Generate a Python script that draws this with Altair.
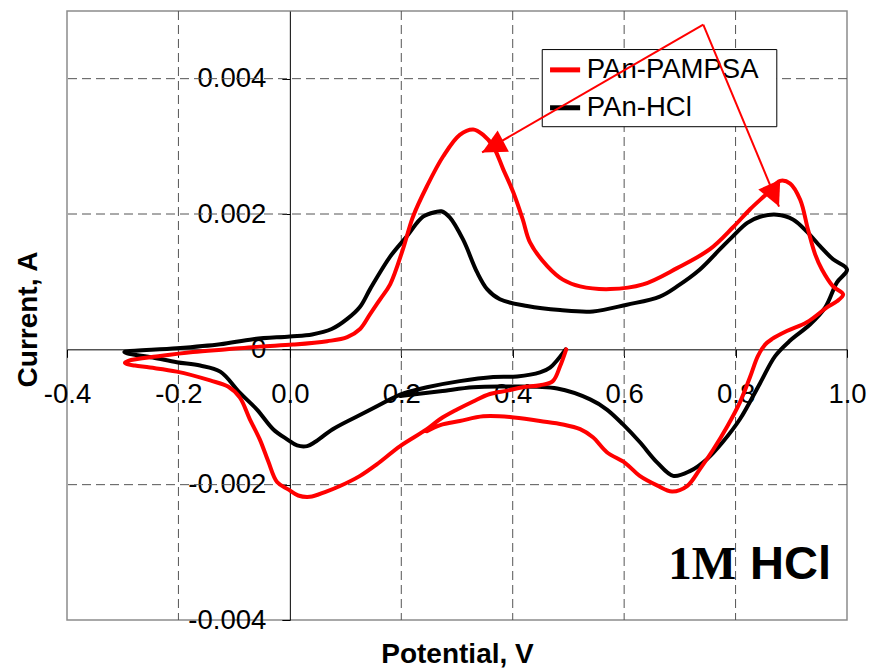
import altair as alt
import pandas as pd

FONT = "Liberation Sans"
SERIF = "Liberation Serif"

# Cyclic voltammograms in 1M HCl, listed in scan order starting at 0.5 V.
# Potential in V, current in A.
hcl_potential = [
    0.495, 0.467, 0.449, 0.408, 0.365, 0.305, 0.246, 0.221, 0.198,
    0.138, 0.077, 0.045, 0.031, 0.013, -0.005, -0.030, -0.059, -0.090, -0.125,
    -0.161, -0.203, -0.246, -0.292, -0.297,
    -0.292, -0.203, -0.125, -0.066, 0.0, 0.040, 0.075, 0.103, 0.126, 0.144,
    0.180, 0.210, 0.239, 0.262, 0.272, 0.287, 0.311, 0.336, 0.354, 0.377,
    0.426, 0.485, 0.544, 0.605, 0.664, 0.695, 0.736, 0.772, 0.795, 0.821,
    0.844, 0.874, 0.903, 0.928, 0.952, 0.975, 1.0,
    0.982, 0.961, 0.934, 0.898, 0.871, 0.844, 0.808, 0.777, 0.749, 0.718,
    0.688, 0.659, 0.628, 0.598, 0.569, 0.539, 0.480, 0.390, 0.329, 0.270, 0.198,
]
hcl_current = [
    0.0, -0.00027, -0.00034, -0.00040, -0.00041, -0.00047, -0.00056, -0.00061, -0.00067,
    -0.00092, -0.00118, -0.00137, -0.00143, -0.00142, -0.00133, -0.00118, -0.00089, -0.00064, -0.00033,
    -0.00024, -0.00019, -0.00012, -0.00006, -0.00004,
    -0.00003, 0.000015, 0.000074, 0.00015, 0.00019, 0.00022, 0.00030, 0.00045, 0.00063, 0.00089,
    0.00137, 0.00167, 0.00196, 0.00203, 0.00204, 0.00195, 0.00162, 0.00114, 0.00089, 0.00074,
    0.00064, 0.00058, 0.00056, 0.00066, 0.00078, 0.00093, 0.00118, 0.00148, 0.00167, 0.00187,
    0.00196, 0.00199, 0.00192, 0.00174, 0.00152, 0.00133, 0.00118,
    0.00099, 0.00062, 0.00037, 0.00013, -0.00010, -0.00050, -0.00103, -0.00137, -0.00162, -0.00180,
    -0.00187, -0.00167, -0.00137, -0.00111, -0.00089, -0.00074, -0.00058, -0.00055, -0.00056, -0.00062, -0.00069,
]

pampsa_potential = [
    0.496, 0.485, 0.472, 0.449, 0.418, 0.390, 0.359, 0.329, 0.300, 0.270, 0.246,
    0.198, 0.156, 0.126, 0.090, 0.063, 0.036, 0.015, -0.003, -0.023, -0.039,
    -0.054, -0.072, -0.090, -0.111, -0.143, -0.203, -0.251, -0.278, -0.292, -0.296,
    -0.290, -0.233, -0.174, -0.113, -0.054, 0.006, 0.067, 0.103, 0.126, 0.144,
    0.162, 0.180, 0.203, 0.221, 0.246, 0.275, 0.305, 0.329, 0.347, 0.365,
    0.383, 0.401, 0.418, 0.431, 0.462, 0.490, 0.521, 0.575, 0.634, 0.695,
    0.754, 0.795, 0.826, 0.856, 0.880, 0.898, 0.916, 0.930, 0.943, 0.955,
    0.975, 0.993,
    0.982, 0.964, 0.928, 0.892, 0.865, 0.853, 0.840, 0.826, 0.808, 0.785,
    0.760, 0.736, 0.713, 0.686, 0.659, 0.628, 0.602, 0.569, 0.544, 0.521,
    0.490, 0.449, 0.395, 0.347, 0.305, 0.270, 0.246,
]
pampsa_current = [
    0.0, -0.00025, -0.00047, -0.00053, -0.00056, -0.00061, -0.00066, -0.00077, -0.00089, -0.00103, -0.00118,
    -0.00143, -0.00170, -0.00187, -0.00202, -0.00211, -0.00218, -0.00216, -0.00207, -0.00196, -0.00165,
    -0.00133, -0.00103, -0.00071, -0.00055, -0.00046, -0.00033, -0.00027, -0.00024, -0.00022, -0.00020,
    -0.00017, -0.00010, -0.00004, 0.0, 0.00004, 0.00007, 0.00012, 0.00018, 0.00030, 0.00052,
    0.00074, 0.00096, 0.00148, 0.00196, 0.00241, 0.00285, 0.00317, 0.00325, 0.00317, 0.00300,
    0.00266, 0.00232, 0.00192, 0.00158, 0.00123, 0.00103, 0.00093, 0.00089, 0.00096, 0.00120,
    0.00148, 0.00180, 0.00207, 0.00230, 0.00249, 0.00245, 0.00221, 0.00177, 0.00140, 0.00118,
    0.00093, 0.00081,
    0.00071, 0.00062, 0.00040, 0.00027, 0.00015, 0.00007, -0.00010, -0.00041, -0.00078, -0.00114,
    -0.00148, -0.00177, -0.00202, -0.00210, -0.00201, -0.00187, -0.00168, -0.00152, -0.00130, -0.00118,
    -0.00111, -0.00106, -0.00100, -0.00099, -0.00106, -0.00112, -0.00121,
]

series_names = ["PAn-PAMPSA", "PAn-HCl"]
series_colors = ["#ff0000", "#000000"]

x_ticks = [-0.4, -0.2, 0.0, 0.2, 0.4, 0.6, 0.8, 1.0]
y_ticks = [-0.004, -0.002, 0.0, 0.002, 0.004]
x_grid = [-0.2, 0.2, 0.4, 0.6, 0.8]
y_grid = [-0.002, 0.002, 0.004]

# Arrows pointing from a common apex to the two oxidation peaks of PAn-PAMPSA
arrow_apex_v, arrow_apex_i = 0.742, 0.0048
arrow_tip_v = [0.345, 0.878]
arrow_tip_i = [0.00291, 0.00211]
arrow_angle = [242, 156]

# In-plot legend box, placed in data units
legend_box_v = [0.453, 0.874]
legend_box_i = [0.00443, 0.00329]
legend_row_i = [0.00413, 0.00357]
legend_sample_v = [0.467, 0.521]
legend_label_v = 0.533

X_DOMAIN = [-0.4, 1.0]
Y_DOMAIN = [-0.004, 0.005]
W, H = 780, 609

# Axes cross at the origin, as in the classic spreadsheet chart style
x_offset = -H * (0 - Y_DOMAIN[0]) / (Y_DOMAIN[1] - Y_DOMAIN[0])
y_offset = -W * (0 - X_DOMAIN[0]) / (X_DOMAIN[1] - X_DOMAIN[0])

x_scale = alt.Scale(domain=X_DOMAIN, nice=False, zero=False)
y_scale = alt.Scale(domain=Y_DOMAIN, nice=False, zero=False)

x_axis = alt.Axis(
    values=x_ticks, offset=x_offset, grid=False,
    domainColor="black", domainWidth=1, tickColor="black", tickSize=8, tickWidth=1,
    labelFont=FONT, labelFontSize=27.5, labelColor="black", labelPadding=23,
    labelFlush=False, labelOverlap=False,
    labelExpr="(datum.value < 0 ? '-' : '') + format(abs(datum.value), '.1f')",
    title="Potential, V", titleFont=FONT, titleFontSize=28, titleFontWeight="bold",
    titleColor="black", titleX=W / 2, titleY=313, titleAlign="center",
    titleBaseline="alphabetic",
)
y_axis = alt.Axis(
    values=y_ticks, offset=y_offset, grid=False,
    domainColor="black", domainWidth=1, tickColor="black", tickSize=8, tickWidth=1,
    labelFont=FONT, labelFontSize=27.5, labelColor="black", labelPadding=16,
    labelOverlap=False,
    labelExpr="datum.value == 0 ? '0' : (datum.value < 0 ? '-' : '') + format(abs(datum.value), '.3f')",
    title="Current, A", titleFont=FONT, titleFontSize=28, titleFontWeight="bold",
    titleColor="black", titleX=-252.9, titleY=308, titleAlign="center",
    titleBaseline="alphabetic", titleAngle=270,
)


def X(field):
    return alt.X(field, type="quantitative", scale=x_scale, axis=x_axis)


def Y(field):
    return alt.Y(field, type="quantitative", scale=y_scale, axis=y_axis)


color_scale = alt.Scale(domain=series_names, range=series_colors)

rows = []
for name, vs, cs in [("PAn-HCl", hcl_potential, hcl_current),
                     ("PAn-PAMPSA", pampsa_potential, pampsa_current)]:
    for k, (v, c) in enumerate(zip(vs, cs)):
        rows.append({"series": name, "seq": k, "potential": v, "current": c})
curves = pd.DataFrame(rows)

grid_style = dict(color="#555555", strokeDash=[9, 5], strokeWidth=1)
grid_v = alt.Chart(pd.DataFrame({"gx": x_grid})).mark_rule(**grid_style).encode(x=X("gx"))
grid_h = alt.Chart(pd.DataFrame({"gy": y_grid})).mark_rule(**grid_style).encode(y=Y("gy"))

legend_box = alt.Chart(pd.DataFrame({
    "v0": [legend_box_v[0]], "v1": [legend_box_v[1]],
    "i0": [legend_box_i[0]], "i1": [legend_box_i[1]],
})).mark_rect(fill="white", stroke="black", strokeWidth=1).encode(
    x=X("v0"), x2="v1", y=Y("i0"), y2="i1"
)

legend_df = pd.DataFrame({
    "series": series_names,
    "row": legend_row_i,
    "s0": [legend_sample_v[0]] * 2,
    "s1": [legend_sample_v[1]] * 2,
    "lv": [legend_label_v] * 2,
})
legend_samples = alt.Chart(legend_df).mark_rule(strokeWidth=5).encode(
    x=X("s0"), x2="s1", y=Y("row"),
    color=alt.Color("series:N", scale=color_scale, legend=None),
)
legend_labels = alt.Chart(legend_df).mark_text(
    align="left", baseline="middle", font=FONT, fontSize=27.5, color="black"
).encode(x=X("lv"), y=Y("row"), text="series:N")

lines = alt.Chart(curves).mark_line(
    strokeWidth=4, strokeJoin="round", strokeCap="round", interpolate="catmull-rom"
).encode(
    x=X("potential"), y=Y("current"),
    color=alt.Color("series:N", scale=color_scale, legend=None),
    order="seq:Q",
)

arrow_rows = []
for k, (tv, ti) in enumerate(zip(arrow_tip_v, arrow_tip_i)):
    arrow_rows.append({"arrow": k, "pt": 0, "v": arrow_apex_v, "i": arrow_apex_i})
    arrow_rows.append({"arrow": k, "pt": 1, "v": tv, "i": ti})
arrow_lines = alt.Chart(pd.DataFrame(arrow_rows)).mark_line(
    color="#ff0000", strokeWidth=2
).encode(x=X("v"), y=Y("i"), detail="arrow:N", order="pt:Q")

arrow_heads = alt.Chart(pd.DataFrame({
    "v": arrow_tip_v, "i": arrow_tip_i, "angle": arrow_angle,
})).mark_point(
    shape="M0,0L-1,2L1,2Z", filled=True, color="#ff0000", size=576, opacity=1, strokeWidth=0
).encode(x=X("v"), y=Y("i"), angle=alt.Angle("angle:Q", scale=None))

label_1m = alt.Chart(pd.DataFrame({"v": [0.679], "i": [-0.0034], "t": ["1M"]})).mark_text(
    align="left", baseline="alphabetic", font=SERIF, fontWeight="bold", fontSize=47, color="black"
).encode(x=X("v"), y=Y("i"), text="t:N")
label_hcl = alt.Chart(pd.DataFrame({"v": [0.826], "i": [-0.0034], "t": ["HCl"]})).mark_text(
    align="left", baseline="alphabetic", font=FONT, fontWeight="bold", fontSize=47, color="black"
).encode(x=X("v"), y=Y("i"), text="t:N")

chart = alt.layer(
    grid_v, grid_h, legend_box, legend_samples, legend_labels,
    lines, arrow_lines, arrow_heads, label_1m, label_hcl,
).properties(
    width=W, height=H,
    padding={"left": 67, "top": 11, "right": 24, "bottom": 51},
    autosize=alt.AutoSizeParams(type="none"),
    background="white",
).configure_view(stroke="#8c8c8c", strokeWidth=1.5)

chart.save("out.html", embed_options={"renderer": "svg", "actions": False})
